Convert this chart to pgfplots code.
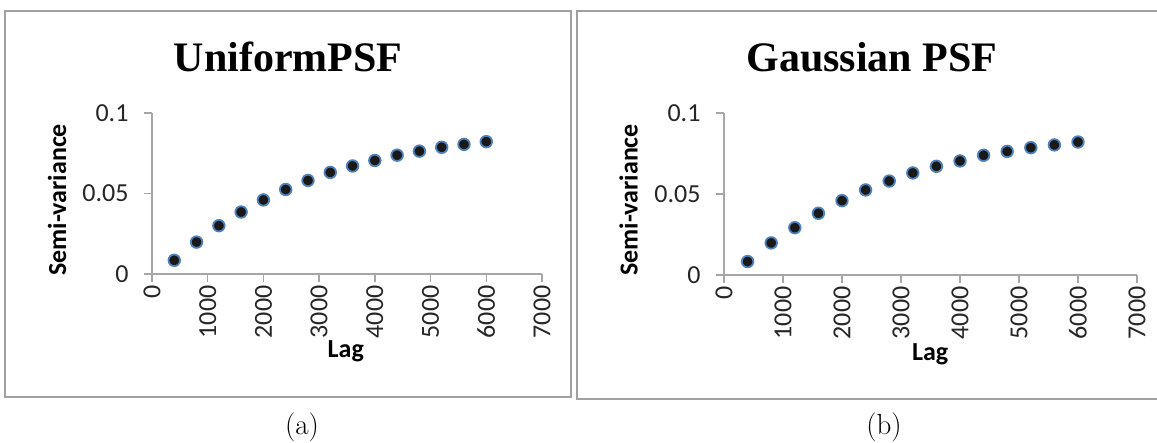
\documentclass[border=0pt]{standalone}
\usepackage{fontspec}
\usepackage{pgfplots}
\pgfplotsset{compat=1.18}
\newfontfamily\calibri{Carlito}
\newfontfamily\tnr{Liberation Serif}
\definecolor{excelblue}{HTML}{4F81BD}
\definecolor{axisgray}{HTML}{A6A6A6}
\definecolor{framegray}{HTML}{A0A0A0}
\pgfplotsset{
  semivar/.style={
    scale only axis,
    xmin=0, xmax=7000, ymin=0, ymax=0.1,
    axis lines=left,
    axis line style={-, axisgray, line width=1.3pt},
    tick style={axisgray, line width=1.3pt},
    tick align=outside,
    major tick length=8pt,
    xtick={0,1000,2000,3000,4000,5000,6000,7000},
    xticklabels={0,1000,2000,3000,4000,5000,6000,7000},
    ytick={0,0.05,0.1},
    yticklabels={0,0.05,0.1},
    /pgf/number format/assume math mode=true,
    ticklabel style={font=\calibri\fontsize{26}{30}\selectfont, text=black!85},
    xticklabel style={rotate=90, anchor=east},
    yticklabel style={xshift=-12pt},
    label style={font=\calibri\bfseries\fontsize{26}{30}\selectfont, text=black},
    clip=false,
  },
  dots/.style={only marks, mark=*, mark size=5.8pt,
    mark options={fill=black!90, draw=excelblue, line width=1.8pt}},
}
\pgfplotstableread{
x y
400 0.0085
800 0.0198
1200 0.0300
1600 0.0385
2000 0.0460
2400 0.0525
2800 0.0581
3200 0.0631
3600 0.0671
4000 0.0705
4400 0.0738
4800 0.0763
5200 0.0787
5600 0.0805
6000 0.0822
}\datauniform
\pgfplotstableread{
x y
400 0.0083
800 0.0198
1200 0.0292
1600 0.0381
2000 0.0459
2400 0.0525
2800 0.0580
3200 0.0630
3600 0.0671
4000 0.0704
4400 0.0739
4800 0.0763
5200 0.0786
5600 0.0803
6000 0.0821
}\datagauss
\begin{document}
\begin{tikzpicture}[x=1pt,y=1pt]
\useasboundingbox (0,0) rectangle (1157,443);
\draw[framegray, line width=2pt] (5,46) rectangle (571,432);
\draw[framegray, line width=2pt] (577,44) rectangle (1162,432);
\node[anchor=base, font=\tnr\bfseries\fontsize{42}{48}\selectfont] at (288,371) {UniformPSF};
\node[anchor=base, font=\tnr\bfseries\fontsize{42}{48}\selectfont] at (872,371) {Gaussian PSF};
\node[anchor=base, font=\fontsize{29}{34}\selectfont] at (302,8) {(a)};
\node[anchor=base, font=\fontsize{29}{34}\selectfont] at (884,8) {(b)};
\begin{axis}[semivar, at={(152pt,169pt)}, anchor=south west, width=390pt, height=161pt,
  xlabel={Lag}, ylabel={Semi-variance},
  xlabel style={at={(axis description cs:0.497,-0.516)}, anchor=base},
  ylabel style={at={(axis description cs:-0.2436,0.46)}, anchor=center}]
\addplot[dots] table[x=x,y=y] {\datauniform};
\end{axis}
\begin{axis}[semivar, at={(724pt,168pt)}, anchor=south west, width=413pt, height=162pt,
  xlabel={Lag}, ylabel={Semi-variance},
  xlabel style={at={(axis description cs:0.499,-0.525)}, anchor=base},
  ylabel style={at={(axis description cs:-0.231,0.463)}, anchor=center}]
\addplot[dots] table[x=x,y=y] {\datagauss};
\end{axis}
\end{tikzpicture}
\end{document}
